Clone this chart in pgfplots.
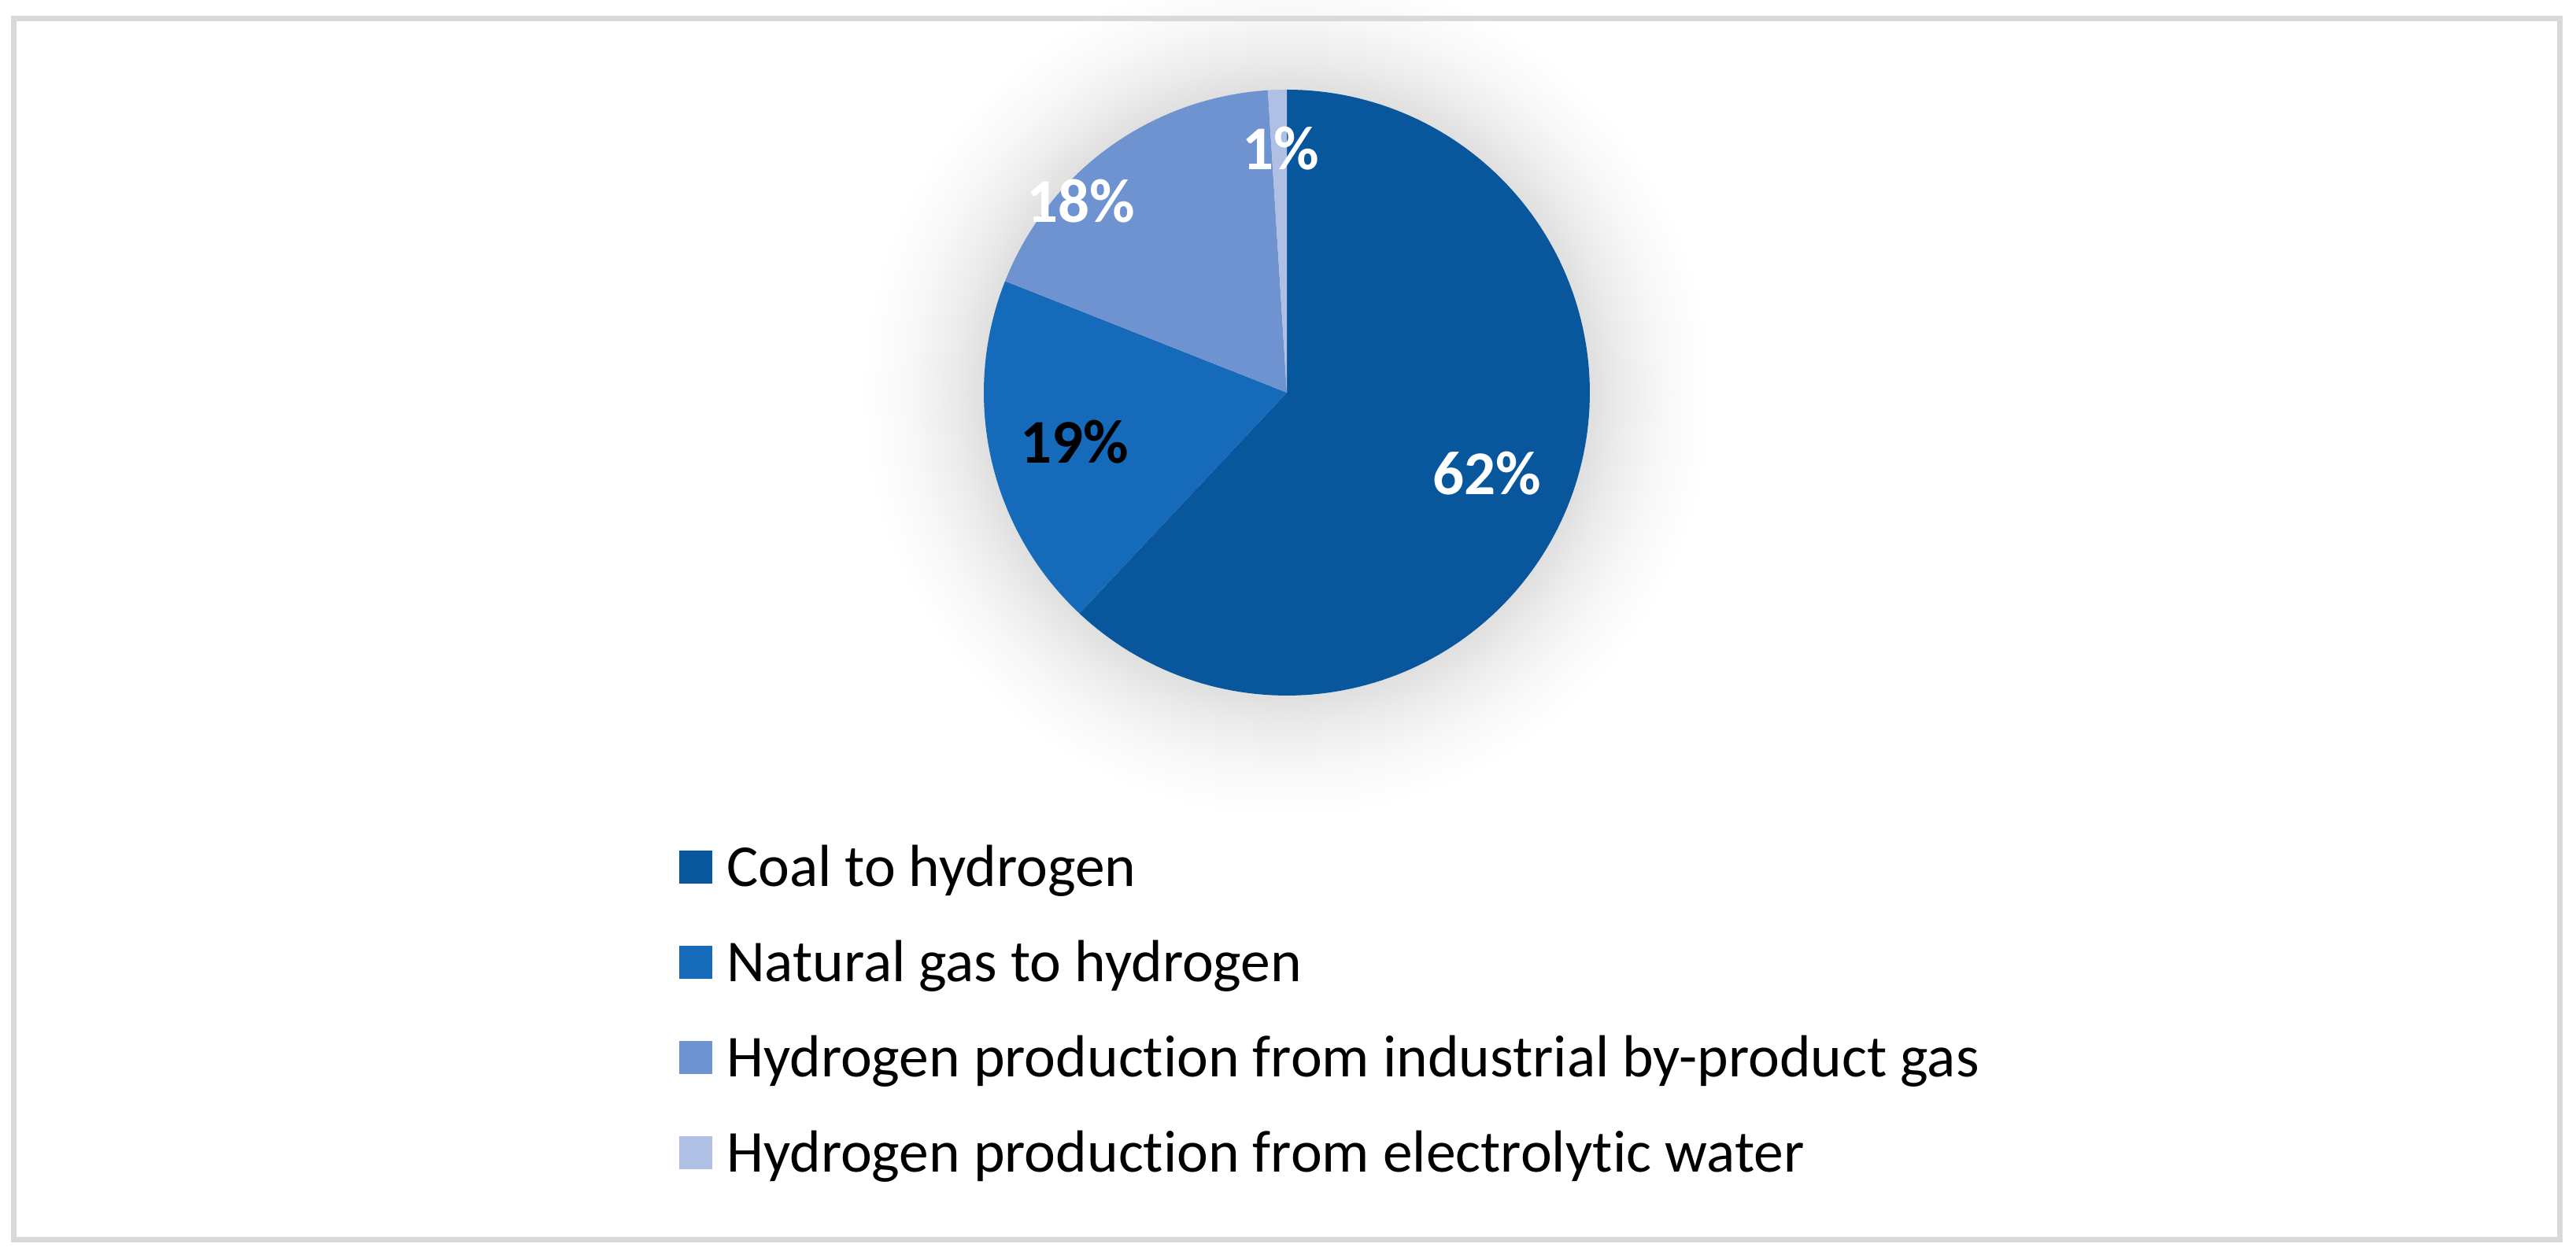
\documentclass[border=0pt]{standalone}
\usepackage{pgfplots}
\usepackage{pgfplotstable}
\pgfplotsset{compat=1.18}
\usepackage{fontspec}
\setmainfont{Carlito}[Ligatures=NoCommon]
\definecolor{cCoal}{HTML}{08569C}
\definecolor{cGas}{HTML}{166ABA}
\definecolor{cByp}{HTML}{6F92D0}
\definecolor{cEle}{HTML}{B0C0E4}
\definecolor{frame}{HTML}{D9D9D9}
\pgfdeclareradialshading{glow}{\pgfpoint{0bp}{0bp}}{color(0bp)=(black!12); color(18bp)=(black!12); color(19.5bp)=(black!8); color(22bp)=(black!3); color(25bp)=(white); color(50bp)=(white)}

\pgfplotstableread{
source share
Coal 62
Gas 19
Byproduct 18
Electrolytic 1
}\piedata

\begin{document}
\begin{tikzpicture}
\pgfplotstablegetelem{0}{share}\of\piedata \pgfmathsetmacro\cA{\pgfplotsretval}
\pgfplotstablegetelem{1}{share}\of\piedata \pgfmathsetmacro\cB{\cA+\pgfplotsretval}
\pgfplotstablegetelem{2}{share}\of\piedata \pgfmathsetmacro\cC{\cB+\pgfplotsretval}
\pgfplotstablegetelem{3}{share}\of\piedata \pgfmathsetmacro\cD{\cC+\pgfplotsretval}
\def\cx{1635}\def\cy{499}\def\r{385}
\begin{axis}[
  scale only axis, width=327.3pt, height=159.5pt,
  xmin=0, xmax=3273, ymin=0, ymax=1595, y dir=reverse,
  hide axis, clip=false,
  legend style={at={(axis cs:861,1073)}, anchor=north west, draw=none, fill=none,
    inner sep=0pt, row sep=5.9pt, column sep=0pt,
    font=\fontsize{7.55}{8.6}\selectfont,
    nodes={inner sep=0pt, text height=5.2pt, text depth=1.0pt},
    /tikz/every odd column/.append style={column sep=1.8pt}},
  legend cell align=left,
  legend image code/.code={\fill[#1] (0pt,-1.7pt) rectangle (4.2pt,2.5pt);},
]
\shade[shading=glow] (axis cs:\cx,\cy) circle[radius=54pt];
\addplot[fill=cCoal, draw=none, domain=0:\cA, samples=150, variable=\t]
  ({\cx+\r*cos(90-3.6*\t)},{\cy-\r*sin(90-3.6*\t)}) -- (axis cs:\cx,\cy) -- cycle;
\addlegendentry{Coal to hydrogen}
\addplot[fill=cGas, draw=none, domain=\cA:\cB, samples=60, variable=\t]
  ({\cx+\r*cos(90-3.6*\t)},{\cy-\r*sin(90-3.6*\t)}) -- (axis cs:\cx,\cy) -- cycle;
\addlegendentry{Natural gas to hydrogen}
\addplot[fill=cByp, draw=none, domain=\cB:\cC, samples=60, variable=\t]
  ({\cx+\r*cos(90-3.6*\t)},{\cy-\r*sin(90-3.6*\t)}) -- (axis cs:\cx,\cy) -- cycle;
\addlegendentry{Hydrogen production from industrial by-product gas}
\addplot[fill=cEle, draw=none, domain=\cC:\cD, samples=10, variable=\t]
  ({\cx+\r*cos(90-3.6*\t)},{\cy-\r*sin(90-3.6*\t)}) -- (axis cs:\cx,\cy) -- cycle;
\addlegendentry{Hydrogen production from electrolytic water}
\node[font=\bfseries\fontsize{7.9}{8}\selectfont, text=white] at (axis cs:1889,602) {62\%};
\node[font=\bfseries\fontsize{7.9}{8}\selectfont, text=black] at (axis cs:1365,562) {19\%};
\node[font=\bfseries\fontsize{7.9}{8}\selectfont, text=white] at (axis cs:1373,256) {18\%};
\node[font=\bfseries\fontsize{7.9}{8}\selectfont, text=white] at (axis cs:1627,189) {1\%};
\draw[frame, line width=0.7pt] (axis cs:17.5,23.5) rectangle (axis cs:3252.5,1575.5);
\end{axis}
\pgfresetboundingbox
\path[use as bounding box] (0,0) rectangle (327.3pt,159.5pt);
\end{tikzpicture}
\end{document}
